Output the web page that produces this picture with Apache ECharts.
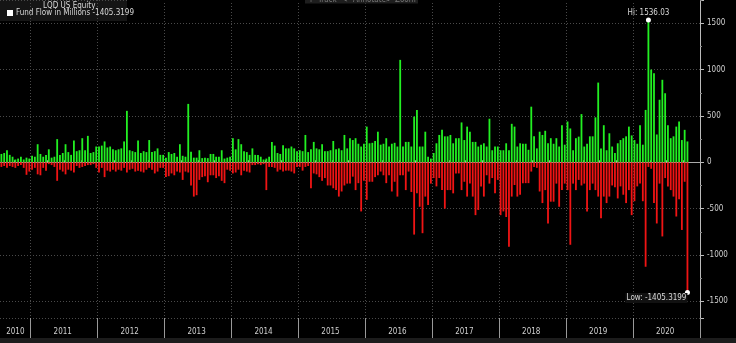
<!DOCTYPE html>
<html><head><meta charset="utf-8">
<script src="https://cdn.jsdelivr.net/npm/echarts@6/dist/echarts.min.js"></script>
<style>html,body{margin:0;padding:0;background:#000;}#c{width:736px;height:343px;}</style>
</head><body><div id="c"></div>
<script>
const FONT = "'Liberation Sans Narrow','DejaVu Sans Condensed','Liberation Sans',sans-serif";
const years = ['2010','2011','2012','2013','2014','2015','2016','2017','2018','2019','2020'];
const yTicks = [-1500, -1000, -500, 0, 500, 1000, 1500];

// Half-month bins, 2010-07-16 .. 2020-12-16
const categories = [];
for (const y of years) {
  for (let m = 1; m <= 12; m++) {
    for (const d of [1, 16]) {
      if (y === '2010' && (m < 7 || (m === 7 && d === 1))) continue;
      categories.push(y + '-' + String(m).padStart(2, '0') + '-' + String(d).padStart(2, '0'));
    }
  }
}

// Largest daily inflow in each bin (USD millions)
const inflow = [
  90,100,130,80,60,30,40,60,30,50, 40,70,60,195,90,60,80,140,50,60,
  250,80,100,195,110,80,235,120,130,260, 130,285,100,110,170,170,180,225,160,170,
  140,130,140,150,225,555,130,120,110,235, 100,120,110,240,110,120,150,80,80,50,
  110,90,100,
  60,195,70,60,630,115,50,50,130,45, 50,45,90,90,60,60,130,40,50,60,
  260,140,250,195,120,110,80,150,80,80, 60,30,40,60,220,180,100,90,185,150,
  150,170,150,120,130,120,295,110,140,220, 150,140,195,120,120,130,230,140,150,130,
  295,150,260,
  240,260,200,170,200,385,205,210,230,330, 190,200,260,170,200,210,170,1105,170,220,
  220,170,493,565,170,170,330,60,40,100, 205,295,350,280,280,295,205,260,260,430,
  240,385,330,220,220,170,190,205,170,470, 130,170,170,130,130,205,130,415,385,170,
  205,200,200,
  135,600,280,150,330,295,340,205,260,200, 260,170,400,190,440,365,130,260,277,520,
  170,200,280,280,485,860,150,400,130,313, 170,100,205,240,260,280,385,290,240,200,
  400,190,565,1536.03,1000,960,300,675,890,745, 400,260,280,385,440,240,350,225,
  null,null,null,null
];
// Largest daily outflow in each bin (USD millions)
const outflow = [
  -50,-40,-60,-40,-50,-60,-40,-30,-60,-135, -100,-80,-60,-130,-140,-60,-90,-20,-30,-50,
  -200,-80,-100,-130,-80,-90,-110,-40,-60,-50, -40,-30,-30,-20,-60,-110,-60,-160,-90,-100,
  -80,-100,-80,-90,-60,-110,-80,-70,-100,-90, -100,-110,-80,-60,-80,-120,-100,-60,-60,-160,
  -150,-120,-140,
  -100,-110,-190,-100,-110,-250,-370,-355,-190,-160, -150,-215,-140,-140,-170,-150,-200,-225,-80,-90,
  -120,-110,-80,-140,-90,-100,-110,-30,-30,-20, -30,-20,-300,-50,-50,-60,-100,-80,-100,-90,
  -90,-100,-120,-50,-50,-90,-50,-40,-280,-120, -130,-160,-200,-170,-250,-250,-280,-300,-370,-315,
  -250,-230,-230,
  -155,-300,-225,-530,-200,-405,-210,-210,-160,-140, -100,-140,-225,-140,-315,-210,-370,-140,-140,-300,
  -100,-320,-780,-335,-480,-765,-370,-460,-230,-170, -260,-170,-300,-500,-300,-300,-335,-120,-120,-300,
  -210,-370,-230,-370,-570,-515,-260,-370,-140,-230, -170,-335,-190,-570,-530,-590,-910,-370,-245,-370,
  -350,-225,-225,
  -225,-100,-50,-60,-315,-440,-300,-660,-425,-425, -230,-480,-300,-230,-300,-890,-230,-300,-190,-250,
  -230,-530,-300,-230,-300,-370,-605,-370,-440,-370, -250,-270,-390,-260,-350,-440,-300,-570,-420,-260,
  -230,-420,-1127,-50,-70,-440,-660,-230,-800,-170, -260,-300,-370,-585,-400,-730,-210,-1405.3199,
  null,null,null,null
];

const isYearStart = v => v.endsWith('-01-01');
const isQuarter = v => /-(04|07|10)-01$/.test(v);
const isYearLabel = v => v === '2010-10-01' || (v.endsWith('-06-16') && v.slice(0,4) !== '2010');

const chart = echarts.init(document.getElementById('c'), null, {renderer: 'canvas'});
chart.setOption({
  backgroundColor: '#000',
  animation: false,
  title: {
    text: 'LQD US Equity', left: 43, top: 2, padding: 0,
    textStyle: {color: '#d8d8d8', fontSize: 8, fontWeight: 'normal', fontFamily: FONT}
  },
  legend: {
    left: 7, top: 9, padding: 0, itemWidth: 6, itemHeight: 6, selectedMode: false,
    data: [{name: 'Fund Flow in Millions -1405.3199', icon: 'rect', itemStyle: {color: '#fff'}}],
    textStyle: {color: '#d8d8d8', fontSize: 8, fontFamily: FONT, padding: [0, 0, 0, -2]}
  },
  graphic: [
    {type: 'rect', z: 0, shape: {x: 0, y: 0, width: 127, height: 21}, style: {fill: '#151515'}},
    {type: 'rect', z: 20, shape: {x: 127, y: 0, width: 573, height: 1.5}, style: {fill: '#000'}},
    {type: 'rect', z: 21, shape: {x: 305, y: -10, width: 113, height: 13.5}, style: {fill: '#1e1e1e'}},
    {type: 'text', z: 22, x: 308, y: -4, style: {text: '+', fill: '#777', fontSize: 8, fontFamily: FONT}},
    {type: 'text', z: 22, x: 318, y: -4, style: {text: 'Track', fill: '#777', fontSize: 8, fontFamily: FONT}},
    {type: 'text', z: 22, x: 342, y: -4, style: {text: '✎', fill: '#777', fontSize: 8, fontFamily: FONT}},
    {type: 'text', z: 22, x: 353, y: -4, style: {text: 'Annotate', fill: '#777', fontSize: 8, fontFamily: FONT}},
    {type: 'text', z: 22, x: 386, y: -4, style: {text: '⌕', fill: '#777', fontSize: 8, fontFamily: FONT}},
    {type: 'text', z: 22, x: 395, y: -4, style: {text: 'Zoom', fill: '#777', fontSize: 8, fontFamily: FONT}},
    {type: 'rect', z: -1, shape: {x: 0, y: 338, width: 736, height: 5}, style: {fill: '#1c1c1c'}}
  ],
  grid: {left: 0, right: 36, top: 0, bottom: 25, containLabel: false},
  xAxis: [
    {
      type: 'category', data: categories, position: 'bottom', boundaryGap: true,
      axisLine: {show: true, lineStyle: {color: '#aaa', width: 1}},
      axisTick: {show: true, inside: true, length: 2, interval: (i, v) => isQuarter(v), lineStyle: {color: '#aaa'}},
      axisLabel: {show: false},
      splitLine: {show: true, interval: (i, v) => isYearStart(v), lineStyle: {color: '#4a4a4a', type: [1, 2]}}
    },
    {
      type: 'category', data: categories, position: 'bottom', boundaryGap: true,
      axisLine: {show: false},
      axisTick: {show: true, inside: false, length: 20, interval: (i, v) => isYearStart(v), lineStyle: {color: '#999'}},
      axisLabel: {
        show: true, interval: (i, v) => isYearLabel(v), formatter: v => v.slice(0, 4),
        color: '#cfcfcf', fontSize: 8, margin: 10, fontFamily: FONT
      },
      splitLine: {show: false}
    }
  ],
  yAxis: {
    type: 'value', position: 'right', min: -1680, max: 1751, splitNumber: 7,
    axisLine: {show: true, lineStyle: {color: '#bbb'}},
    axisTick: {show: true, length: 4, lineStyle: {color: '#bbb'}},
    minorTick: {show: true, splitNumber: 2, length: 2, lineStyle: {color: '#888'}},
    axisLabel: {
      color: '#cfcfcf', fontSize: 8, margin: 7, fontFamily: FONT,
      showMinLabel: false, showMaxLabel: false,
      formatter: v => (yTicks.indexOf(v) >= 0 ? String(v) : '')
    },
    splitLine: {show: true, lineStyle: {color: '#4a4a4a', type: [1, 2]}}
  },
  series: [
    {
      name: 'Fund Flow in', type: 'bar', xAxisIndex: 0, data: inflow,
      barGap: '-100%', barCategoryGap: '35%',
      itemStyle: {color: '#22f022'},
      markPoint: {
        symbol: 'circle', symbolSize: 5, itemStyle: {color: '#fff'},
        data: [{type: 'max'}],
        label: {show: true, position: 'top', distance: 1, formatter: p => 'Hi: ' + p.value,
          color: '#d8d8d8', fontSize: 8, fontFamily: FONT}
      }
    },
    {
      name: 'Fund Flow in Millions -1405.3199', type: 'bar', xAxisIndex: 0, data: outflow,
      barGap: '-100%', barCategoryGap: '35%',
      itemStyle: {color: '#f01414'},
      markPoint: {
        symbol: 'circle', symbolSize: 5, itemStyle: {color: '#fff'},
        data: [{type: 'min'}],
        label: {show: true, position: [2.5, 8], align: 'right', verticalAlign: 'middle',
          formatter: p => 'Low: ' + p.value, color: '#d8d8d8', fontSize: 8, fontFamily: FONT,
          backgroundColor: '#111', padding: [1, 1]}
      }
    }
  ]
});
</script></body></html>
